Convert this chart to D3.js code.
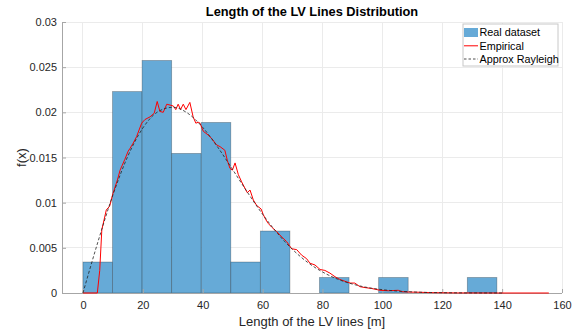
<!DOCTYPE html>
<html>
<head>
<meta charset="utf-8">
<script src="https://cdn.jsdelivr.net/npm/d3@7/dist/d3.min.js"></script>
<style>
  html, body { margin: 0; padding: 0; background: #fff; }
  svg { display: block; font-family: "Liberation Sans", Arial, Helvetica, sans-serif; }
</style>
</head>
<body>
<svg id="chart" width="581" height="333"></svg>
<script>
// ---- Data ----
const binWidth = 9.875;
const binStarts = [0, 9.875, 19.75, 29.625, 39.5, 49.375, 59.25, 69.125, 79, 88.875, 98.75, 108.625, 118.5, 128.375, 138.25];
const binDensity = [0.00343, 0.0223, 0.02574, 0.01545, 0.01888, 0.00343, 0.00686, 0, 0.00172, 0, 0.00172, 0, 0, 0.00172, 0];

const empX = [0, 4.8, 5.6, 6.3, 7.8, 8.9, 10, 11.5, 12.4, 14, 15.1, 15.7, 16.8, 17.9, 19.6, 20.7, 22.4, 23.8, 24.8, 25.7, 26.8, 28, 29.1, 30.2, 31, 31.8, 32.6, 33.5, 34.4, 35.7, 36.8, 37.7, 38.5, 39.1, 40.2, 41.8, 43, 44.6, 45.8, 47.4, 48.2, 49.1, 49.9, 50.8, 51.9, 53, 54.1, 54.9, 55.8, 56.9, 58, 59.5, 60.2, 61.1, 61.9, 63, 64.7, 66.4, 68, 69.7, 71.4, 73, 74.7, 75.8, 77.5, 79.2, 80.8, 82.5, 84.2, 85.8, 87.5, 89.2, 90.8, 92.5, 94.2, 96.4, 99.2, 102, 105.3, 106.4, 109.2, 112.6, 116, 125, 135, 155.6];
const empY = [0, 0, 0.0025, 0.007, 0.0092, 0.0096, 0.011, 0.0125, 0.0136, 0.0148, 0.0157, 0.016, 0.0166, 0.0173, 0.0188, 0.0192, 0.0195, 0.0199, 0.0212, 0.0201, 0.0200, 0.0209, 0.0208, 0.0207, 0.0203, 0.0209, 0.0203, 0.0209, 0.0203, 0.0211, 0.0195, 0.0188, 0.0189, 0.0188, 0.0179, 0.0175, 0.0171, 0.0164, 0.0162, 0.0158, 0.0147, 0.0138, 0.0136, 0.0144, 0.0131, 0.0123, 0.0116, 0.0111, 0.0114, 0.0103, 0.0097, 0.0093, 0.0087, 0.0081, 0.0077, 0.0073, 0.0068, 0.0062, 0.0057, 0.0049, 0.0048, 0.0042, 0.0038, 0.0033, 0.0031, 0.0026, 0.0025, 0.0022, 0.0018, 0.0015, 0.0013, 0.0011, 0.0011, 0.0007, 0.0006, 0.0005, 0.0003, 0.00025, 0.0003, 0.00015, 0.0001, 0.00008, 0.00004, 0.00001, 0, 0];

const rayX = [0, 5, 10, 15, 20, 25, 30, 35, 40, 45, 50, 55, 60, 65, 70, 75, 80, 85, 90, 95, 100, 110, 120, 130, 140];
const rayY = [0, 0.00566, 0.01085, 0.01515, 0.01826, 0.02006, 0.02056, 0.0199, 0.01833, 0.01615, 0.01366, 0.01112, 0.00872, 0.00659, 0.00482, 0.0034, 0.00233, 0.00154, 0.00099, 0.00061, 0.00037, 0.00012, 0.000035, 0.000009, 0.000002];

const xTicks = [0, 20, 40, 60, 80, 100, 120, 140, 160];
const yTicks = [0, 0.005, 0.01, 0.015, 0.02, 0.025, 0.03];
const yTickLabels = ["0", "0.005", "0.01", "0.015", "0.02", "0.025", "0.03"];
const legendLabels = ["Real dataset", "Empirical", "Approx Rayleigh"];

// ---- Layout ----
const svg = d3.select("#chart");
const L = 62, R = 562, T = 22, B = 293;
const x = d3.scaleLinear().domain([-7, 160]).range([L, R]);
const y = d3.scaleLinear().domain([0, 0.03]).range([B, T]);
const textColor = "#262626";
const font = "Liberation Sans, Arial, Helvetica, sans-serif";

// grid
const grid = svg.append("g");
grid.selectAll("line.vx").data(xTicks).join("line")
  .attr("x1", d => x(d)).attr("x2", d => x(d)).attr("y1", T).attr("y2", B)
  .attr("stroke", "#ebebeb").attr("stroke-width", 1).attr("shape-rendering", "crispEdges");
grid.selectAll("line.hy").data(yTicks).join("line")
  .attr("x1", L).attr("x2", R).attr("y1", d => y(d)).attr("y2", d => y(d))
  .attr("stroke", "#ebebeb").attr("stroke-width", 1).attr("shape-rendering", "crispEdges");

// histogram bars
svg.append("g").selectAll("rect").data(binStarts.map((s, i) => ({s, d: binDensity[i]})).filter(b => b.d > 0)).join("rect")
  .attr("x", b => x(b.s)).attr("width", b => x(b.s + binWidth) - x(b.s))
  .attr("y", b => y(b.d)).attr("height", b => y(0) - y(b.d))
  .attr("fill", "#66aad7")
  .attr("stroke", "rgba(0,0,0,0.3)").attr("stroke-width", 0.8);

// axes
const xAxis = d3.axisBottom(x).tickValues(xTicks).tickSize(-4).tickPadding(8).tickFormat(d3.format("d"));
const yAxis = d3.axisLeft(y).tickValues(yTicks).tickSize(-4).tickPadding(5).tickFormat((d, i) => yTickLabels[i]);

const gx = svg.append("g").attr("transform", `translate(0,${B})`).call(xAxis);
const gy = svg.append("g").attr("transform", `translate(${L},0)`).call(yAxis);
[gx, gy].forEach(g => {
  g.select(".domain").attr("stroke", "#a6a6a6").attr("stroke-width", 1);
  g.selectAll(".tick line").attr("stroke", "#a6a6a6");
  g.selectAll(".tick text").attr("fill", textColor).attr("font-size", 11).attr("font-family", font);
});
gx.select(".domain").attr("d", `M${L},0.5H${R}`);
gy.select(".domain").attr("d", `M0.5,${B}V${T}`);

// lines
const line = d3.line().x(d => x(d[0])).y(d => y(d[1]));
svg.append("path").datum(empX.map((v, i) => [v, empY[i]]))
  .attr("d", line).attr("fill", "none").attr("stroke", "#ff0000").attr("stroke-width", 1);
svg.append("path").datum(rayX.map((v, i) => [v, rayY[i]]))
  .attr("d", d3.line().curve(d3.curveMonotoneX).x(d => x(d[0])).y(d => y(d[1])))
  .attr("fill", "none").attr("stroke", "#222").attr("stroke-width", 0.8).attr("stroke-dasharray", "3,2");

// title and labels
svg.append("text").attr("x", (L + R) / 2).attr("y", 16).attr("text-anchor", "middle")
  .attr("font-weight", "bold").attr("font-size", 12.8).attr("fill", "#000").text("Length of the LV Lines Distribution");
svg.append("text").attr("x", (L + R) / 2).attr("y", 326).attr("text-anchor", "middle")
  .attr("font-size", 13).attr("fill", textColor).text("Length of the LV lines [m]");
svg.append("text").attr("transform", `translate(25.5,${(T + B) / 2}) rotate(-90)`).attr("text-anchor", "middle")
  .attr("font-size", 13).attr("fill", textColor).text("f(x)");

// legend
const lg = svg.append("g");
lg.append("rect").attr("x", 463).attr("y", 24).attr("width", 95).attr("height", 42)
  .attr("fill", "#fff").attr("stroke", "#c8c8c8").attr("stroke-width", 1);
const rowY = [32.5, 45.8, 59];
lg.append("rect").attr("x", 464).attr("y", rowY[0] - 4.5).attr("width", 14).attr("height", 9).attr("fill", "#66aad7");
lg.append("line").attr("x1", 464).attr("x2", 478).attr("y1", rowY[1]).attr("y2", rowY[1]).attr("stroke", "#ff0000").attr("stroke-width", 1);
lg.append("line").attr("x1", 464).attr("x2", 478).attr("y1", rowY[2]).attr("y2", rowY[2]).attr("stroke", "#222").attr("stroke-width", 0.8).attr("stroke-dasharray", "2.5,2");
lg.selectAll("text").data(legendLabels).join("text")
  .attr("x", 479.5).attr("y", (d, i) => rowY[i] + 3.8)
  .attr("font-size", 10.8).attr("fill", "#000").text(d => d);
</script>
</body>
</html>
